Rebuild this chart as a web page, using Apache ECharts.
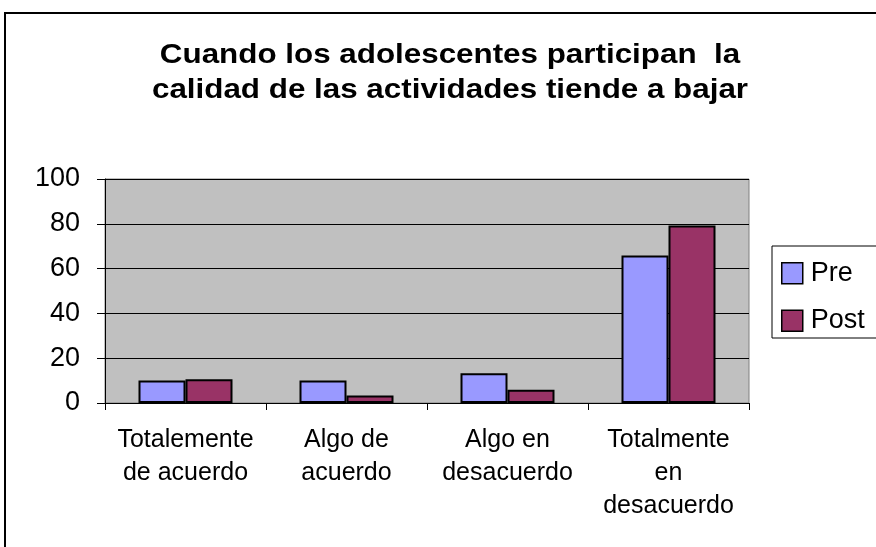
<!DOCTYPE html>
<html>
<head>
<meta charset="utf-8">
<script src="https://cdn.jsdelivr.net/npm/echarts@6/dist/echarts.min.js"></script>
<style>
html,body{margin:0;padding:0;background:#fff;}
#chart{width:876px;height:547px;}
</style>
</head>
<body>
<div id="chart"></div>
<script>
var titleText = 'Cuando los adolescentes participan  la\ncalidad de las actividades tiende a bajar';
var categories = ['Totalemente\nde acuerdo', 'Algo de\nacuerdo', 'Algo en\ndesacuerdo', 'Totalmente\nen\ndesacuerdo'];
var seriesNames = ['Pre', 'Post'];
var preValues = [10, 10, 13.3, 65.8];
var postValues = [10.6, 3.3, 5.9, 79.2];
var yTicks = [0, 20, 40, 60, 80, 100];

var FONT = 'Liberation Sans, Arial, sans-serif';
var chart = echarts.init(document.getElementById('chart'), null, {renderer: 'canvas'});
chart.setOption({
  backgroundColor: '#ffffff',
  animation: false,
  graphic: [
    {type: 'rect', shape: {x: 5, y: 13, width: 900, height: 600}, style: {fill: 'none', stroke: '#000', lineWidth: 2}, silent: true, z: -1},
    {type: 'rect', shape: {x: 772, y: 246, width: 120, height: 92}, style: {fill: '#fff', stroke: '#000', lineWidth: 1}, silent: true, z: 0},
    {type: 'text', x: 450, y: 38, scaleX: 1.12, originX: 0, originY: 0, silent: true, z: 10,
     style: {text: titleText, fill: '#000', font: 'bold 28px Liberation Sans, Arial, sans-serif',
             textAlign: 'center', textVerticalAlign: 'top', lineHeight: 35}}
  ],
  legend: {
    data: seriesNames,
    orient: 'vertical',
    left: 781,
    top: 259.7,
    padding: 0,
    icon: 'rect',
    itemWidth: 21,
    itemHeight: 21,
    itemGap: 20.6,
    z: 5,
    textStyle: {fontFamily: FONT, fontSize: 27, color: '#000', lineHeight: 25, padding: [0, 0, 0, 3]},
    itemStyle: {borderColor: '#000', borderWidth: 1.5}
  },
  grid: {
    left: 105, right: 127, top: 179, bottom: 144,
    show: true, backgroundColor: '#c0c0c0', borderColor: '#808080', borderWidth: 1,
    containLabel: false
  },
  xAxis: {
    type: 'category',
    data: categories,
    axisLine: {show: true, lineStyle: {color: '#000', width: 1}},
    axisTick: {show: true, length: 7, lineStyle: {color: '#000'}},
    axisLabel: {fontFamily: FONT, fontSize: 25, color: '#000', lineHeight: 33, margin: 21, interval: 0}
  },
  yAxis: {
    type: 'value',
    min: yTicks[0],
    max: yTicks[yTicks.length - 1],
    interval: yTicks[1] - yTicks[0],
    axisLine: {show: true, lineStyle: {color: '#000', width: 1}},
    axisTick: {show: true, length: 8, lineStyle: {color: '#000'}},
    axisLabel: {fontFamily: FONT, fontSize: 27, color: '#000', margin: 25},
    splitLine: {show: true, lineStyle: {color: '#000', width: 1}}
  },
  series: [
    {name: seriesNames[0], type: 'bar', data: preValues, barWidth: 47, barGap: '0%',
     itemStyle: {color: '#9999ff', borderColor: '#000', borderWidth: 2}},
    {name: seriesNames[1], type: 'bar', data: postValues, barWidth: 47, barGap: '0%',
     itemStyle: {color: '#993366', borderColor: '#000', borderWidth: 2}}
  ]
});
</script>
</body>
</html>
